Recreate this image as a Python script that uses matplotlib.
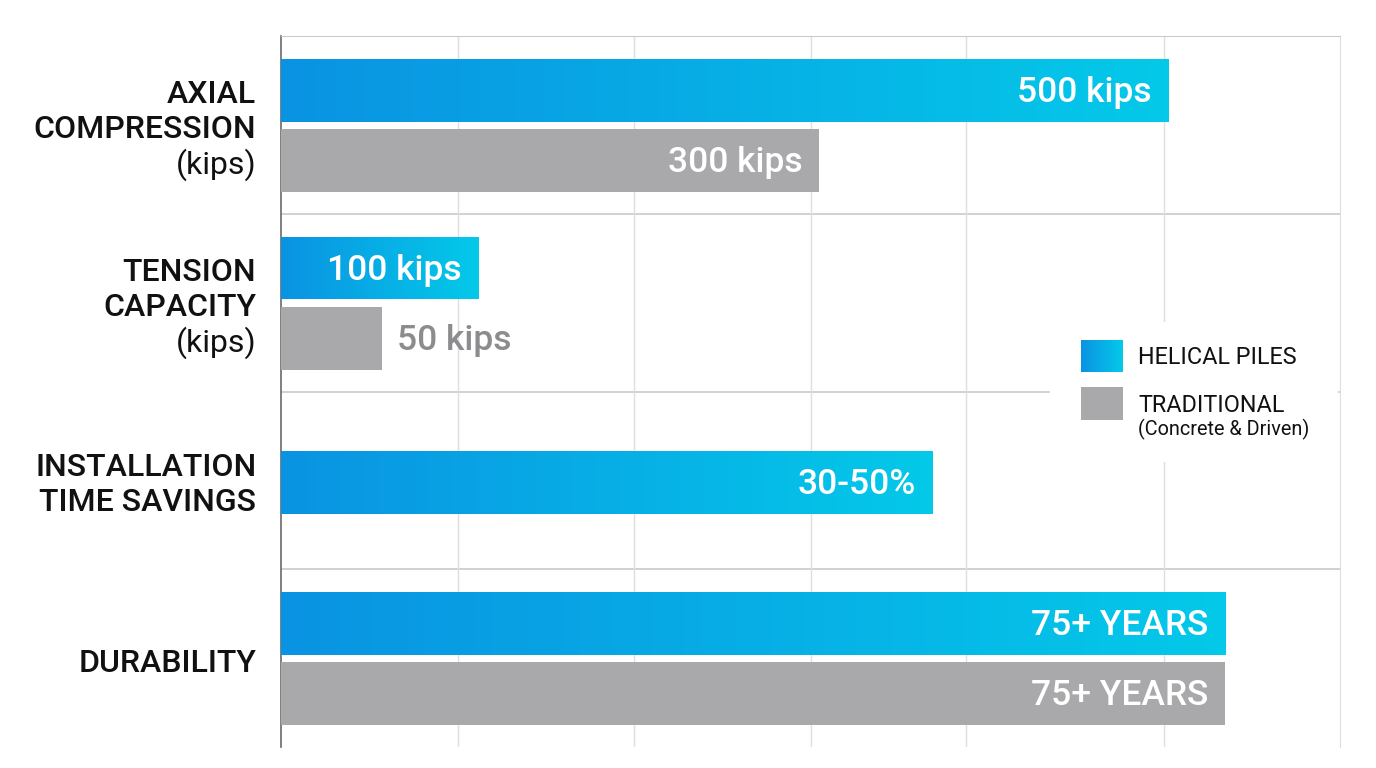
import numpy as np
import matplotlib
matplotlib.use("Agg")
import matplotlib.pyplot as plt
from matplotlib.colors import LinearSegmentedColormap
from matplotlib.patches import Rectangle

plt.rcParams['font.family'] = ['Roboto', 'DejaVu Sans']

# Data (bar lengths are relative scores)
categories = ["AXIAL\nCOMPRESSION\n(kips)", "TENSION\nCAPACITY\n(kips)",
              "INSTALLATION\nTIME SAVINGS", "DURABILITY"]
helical_len = [5.03, 1.12, 3.69, 5.35]
trad_len = [3.05, 0.57, 0.0, 5.35]
helical_labels = ["500 kips", "100 kips", "30-50%", "75+ YEARS"]
trad_labels = ["300 kips", "50 kips", "", "75+ YEARS"]
grid_ticks = [1.0, 2.0, 3.0, 3.88, 5.0]

blue_cmap = LinearSegmentedColormap.from_list("helical", ["#0A93E2", "#04C9E9"])
gray = "#A9A9AC"

fig = plt.figure(figsize=(13.76, 7.68), dpi=100)
ax = fig.add_axes([281 / 1376, 1 - 747 / 768, 1059 / 1376, 711 / 768])

idx = np.arange(len(categories))
has_trad = np.array(trad_len) > 0
bar_h = 0.354
helical_y = np.where(has_trad, idx + 0.305, idx + 0.51)
trad_y = idx + 0.70

grad = np.linspace(0, 1, 256).reshape(1, -1)

hbars = ax.barh(helical_y, helical_len, height=bar_h, color="none", zorder=3)
for b in hbars:
    x0, y0, w, h = b.get_x(), b.get_y(), b.get_width(), b.get_height()
    im = ax.imshow(grad, cmap=blue_cmap, aspect="auto", extent=[x0, x0 + w, y0 + h, y0],
                   zorder=3, interpolation="bicubic")
    im.set_clip_path(b)

tbars = ax.barh(trad_y[has_trad], np.array(trad_len)[has_trad], height=bar_h,
                color=gray, zorder=3)

# value labels
pad = 0.095
dy = 0.012
val_kw = dict(va="center", fontsize=25.5, fontweight="medium", zorder=5)
for y, v, lab in zip(helical_y, helical_len, helical_labels):
    ax.text(v - pad, y + dy, lab, ha="right", color="white", **val_kw)
for y, v, lab in zip(trad_y[has_trad], np.array(trad_len)[has_trad],
                     np.array(trad_labels)[has_trad]):
    if v < 1.0:
        ax.text(v + 0.085, y + dy, lab, ha="left", color="#8C8C8F", **val_kw)
    else:
        ax.text(v - pad, y + dy, lab, ha="right", color="white", **val_kw)

ax.set_xlim(0, 6)
ax.set_ylim(4, 0)
ax.set_xticks(grid_ticks)
ax.set_xticklabels([])
ax.set_yticks([])
ax.tick_params(axis="x", length=0)
ax.grid(axis="x", color="#DEDEDE", linewidth=1, zorder=0)
for yy in [1, 2, 3]:
    ax.axhline(yy, color="#CACACA", linewidth=1.2, zorder=1)

# category labels, one line at a time (units line in regular weight)
line_step = 0.197
for i, cat in enumerate(categories):
    lines = cat.split("\n")
    for j, line in enumerate(lines):
        y = i + 0.528 + (j - (len(lines) - 1) / 2) * line_step
        ax.text(-0.14, y, line, ha="right", va="center", fontsize=23, color="#111111",
                fontweight="normal" if line.startswith("(") else "medium",
                clip_on=False)

ax.spines["bottom"].set_visible(False)
ax.spines["top"].set_color("#CACACA")
ax.spines["right"].set_color("#DEDEDE")
ax.spines["left"].set_color("#6A6A6A")
ax.spines["left"].set_linewidth(1.2)
for s in ax.spines.values():
    s.set_zorder(2)


def px(x, y):
    return x / 1376, 1 - y / 768


# legend drawn by hand
bx, by = px(1050, 462)
fig.patches.append(Rectangle((bx, by), 288 / 1376, 140 / 768, transform=fig.transFigure,
                             facecolor="white", edgecolor="none", zorder=4))
sw_ax = fig.add_axes([*px(1081, 372), 42 / 1376, 32 / 768])
sw_ax.imshow(grad, cmap=blue_cmap, aspect="auto", interpolation="bicubic")
sw_ax.axis("off")
sw_ax.set_zorder(10)
gx, gy = px(1081, 420)
fig.patches.append(Rectangle((gx, gy), 42 / 1376, 33 / 768, transform=fig.transFigure,
                             facecolor=gray, edgecolor="none", zorder=5))
fig.text(*px(1138, 357), "HELICAL PILES", ha="left", va="center", fontsize=16.8,
         color="#111111", zorder=6)
fig.text(*px(1138, 405), "TRADITIONAL", ha="left", va="center", fontsize=16.8,
         color="#111111", zorder=6)
fig.text(*px(1138, 429), "(Concrete & Driven)", ha="left", va="center", fontsize=14.3,
         color="#111111", zorder=6)

fig.savefig("out.png", dpi=100, facecolor="white")
